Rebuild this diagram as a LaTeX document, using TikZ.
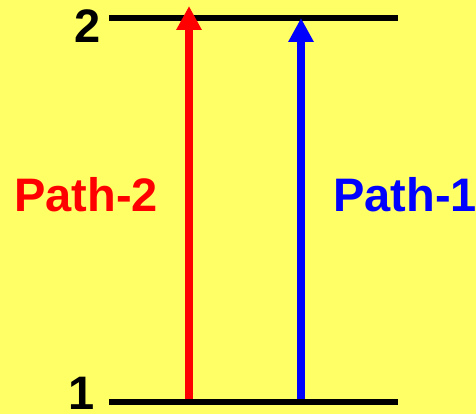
\documentclass[tikz,border=0pt]{standalone}
\usepackage{fontspec}
\setmainfont{Liberation Sans}
\usetikzlibrary{arrows.meta}
\definecolor{bgyellow}{RGB}{255,255,102}
\begin{document}
\begin{tikzpicture}[x=1pt,y=1pt,
  level/.style={line width=6pt, black},
  transition/.style={line width=8pt, -{Triangle[width=24pt,length=24pt]}},
  lbl/.style={font=\fontsize{47}{47}\selectfont\bfseries, inner sep=0pt}]
\fill[bgyellow] (0,0) rectangle (476,414);
\useasboundingbox (0,0) rectangle (476,414);
% levels
\coordinate (l1a) at (109,11.5);
\coordinate (l1b) at (398,11.5);
\coordinate (l2a) at (109,396);
\coordinate (l2b) at (398,396);
\draw[level] (l1a) -- (l1b);
\draw[level] (l2a) -- (l2b);
% level labels
\node[lbl, anchor=east] (n2) at (101,388) {2};
\node[lbl, anchor=east] (n1) at (95,21) {1};
% arrows
\coordinate (r0) at (189,14.5);
\coordinate (r1) at (189,408);
\coordinate (b0) at (301,14.5);
\coordinate (b1) at (301,396);
\draw[transition, red] (r0) -- (r1);
\draw[transition, blue] (b0) -- (b1);
% path labels
\node[lbl, text=red] (p2) at (86,219) {Path-2};
\node[lbl, text=blue, anchor=west] (p1) at (333,219) {Path-1};
\end{tikzpicture}
\end{document}
